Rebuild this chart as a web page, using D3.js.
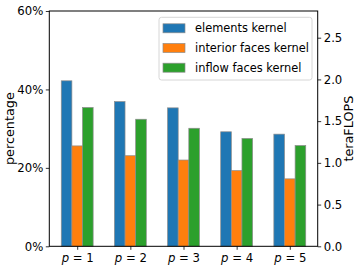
<!DOCTYPE html>
<html lang="en">
<head>
    <meta charset="UTF-8">
    <title>Kernel percentage</title>
    <script src="https://cdn.jsdelivr.net/npm/d3@7"></script>
    <style>
        body { margin: 0; background: #fff; }
        text { font-family: "DejaVu Sans", sans-serif; fill: #000; }
    </style>
</head>
<body>
    <div id="chart"></div>
    <script>
        // datos
        const categories = ["1", "2", "3", "4", "5"];
        const seriesNames = ["elements kernel", "interior faces kernel", "inflow faces kernel"];
        const elements = [42.2, 36.9, 35.3, 29.2, 28.6];
        const interiorFaces = [25.6, 23.1, 22.0, 19.3, 17.2];
        const inflowFaces = [35.4, 32.4, 30.1, 27.5, 25.7];
        const leftTicks = [0, 20, 40, 60];
        const rightTicks = [0, 0.5, 1.0, 1.5, 2.0, 2.5];
        const colors = ["#1f77b4", "#ff7f0e", "#2ca02c"];

        const series = [elements, interiorFaces, inflowFaces];

        const width = 360;
        const height = 273;
        const margin = { top: 11, right: 42.3, bottom: 26.7, left: 49.3 };
        const innerW = width - margin.left - margin.right;
        const innerH = height - margin.top - margin.bottom;

        const x = d3.scaleLinear()
            .domain([-0.525, categories.length - 1 + 0.525])
            .range([0, innerW]);

        const y = d3.scaleLinear()
            .domain([0, 60])
            .range([innerH, 0]);

        const y2 = d3.scaleLinear()
            .domain([0, 2.82])
            .range([innerH, 0]);

        const barW = 0.2;

        const svg = d3.select("#chart").append("svg")
            .attr("width", width)
            .attr("height", height);

        const g = svg.append("g")
            .attr("transform", `translate(${margin.left}, ${margin.top})`);

        // barras
        series.forEach((vals, s) => {
            g.selectAll(".bar" + s)
                .data(vals)
                .enter().append("rect")
                .attr("x", (d, i) => x(i + (s - 1) * barW - barW / 2))
                .attr("width", x(barW) - x(0))
                .attr("y", d => y(d))
                .attr("height", d => innerH - y(d))
                .attr("fill", colors[s])
                .attr("stroke", "#8c8c8c")
                .attr("stroke-width", 0.7);
        });

        // ejes
        const yAxis = g.append("g")
            .call(d3.axisLeft(y).tickValues(leftTicks).tickFormat(d => d + "%").tickSize(3.5).tickPadding(2.5));

        const y2Axis = g.append("g")
            .attr("transform", `translate(${innerW}, 0)`)
            .call(d3.axisRight(y2).tickValues(rightTicks).tickFormat(d3.format(".1f")).tickSize(3.5).tickPadding(2.5));

        const xAxis = g.append("g")
            .attr("transform", `translate(0, ${innerH})`)
            .call(d3.axisBottom(x).tickValues(d3.range(categories.length)).tickFormat("").tickSize(3.5));

        [yAxis, y2Axis, xAxis].forEach(a => {
            a.attr("font-size", null).attr("font-family", null);
            a.select(".domain").remove();
            a.selectAll("line").attr("stroke", "#000").attr("stroke-width", 0.8);
            a.selectAll("text").style("font-size", "11.7px").attr("fill", "#000");
        });

        // etiquetas x con p en cursiva
        const xl = xAxis.selectAll(".tick").append("text")
            .attr("y", 15.5)
            .attr("text-anchor", "middle")
            .style("font-size", "11.7px");
        xl.append("tspan").attr("font-style", "italic").text("p");
        xl.append("tspan").text((d, i) => " = " + categories[i]);

        // marco
        g.append("rect")
            .attr("width", innerW)
            .attr("height", innerH)
            .attr("fill", "none")
            .attr("stroke", "#000")
            .attr("stroke-width", 1);

        // titulos de ejes
        svg.append("text")
            .attr("transform", `translate(14, ${margin.top + innerH / 2}) rotate(-90)`)
            .attr("text-anchor", "middle")
            .style("font-size", "12.8px")
            .text("percentage");

        svg.append("text")
            .attr("transform", `translate(349, ${margin.top + innerH / 2}) rotate(-90)`)
            .attr("text-anchor", "middle")
            .attr("dy", "0.35em")
            .style("font-size", "12.8px")
            .text("teraFLOPS");

        // leyenda
        const legend = svg.append("g")
            .attr("transform", "translate(159, 17.3)");

        legend.append("rect")
            .attr("width", 153)
            .attr("height", 62.7)
            .attr("rx", 2.5)
            .attr("fill", "#fff")
            .attr("fill-opacity", 0.8)
            .attr("stroke", "#cccccc")
            .attr("stroke-width", 0.8);

        const items = legend.selectAll(".item")
            .data(seriesNames)
            .enter().append("g")
            .attr("transform", (d, i) => `translate(0, ${11 + i * 19.7})`);

        items.append("rect")
            .attr("x", 4)
            .attr("y", -4.5)
            .attr("width", 22)
            .attr("height", 9)
            .attr("fill", (d, i) => colors[i])
            .attr("stroke", "#8c8c8c")
            .attr("stroke-width", 0.7);

        items.append("text")
            .attr("x", 36)
            .attr("dy", "0.35em")
            .style("font-size", "11.4px")
            .text(d => d);
    </script>
</body>
</html>
